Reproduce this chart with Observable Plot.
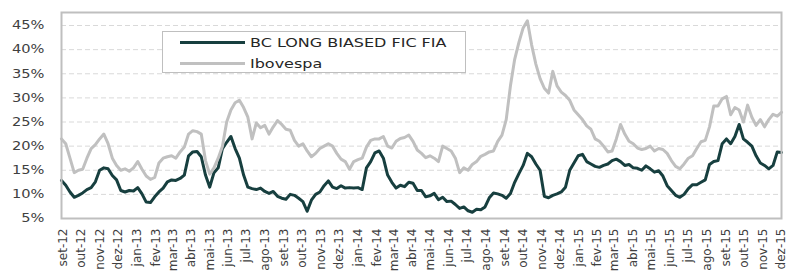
<!DOCTYPE html>
<html><head><meta charset="utf-8">
<script src="https://cdn.jsdelivr.net/npm/d3@7"></script>
<script src="https://cdn.jsdelivr.net/npm/@observablehq/plot@0.6"></script>
<style>
body{margin:0;background:#fff;}
#wrap{position:relative;width:786px;height:273px;overflow:hidden;}
#legend{position:absolute;left:162px;top:31px;}
</style>
</head><body>
<div id="wrap"><div id="chart"></div><div id="legend"></div></div>
<script>
const seriesNames = ["BC LONG BIASED FIC FIA", "Ibovespa"];
const monthNames = ["jan","fev","mar","abr","mai","jun","jul","ago","set","out","nov","dez"];
const yTicks = [5,10,15,20,25,30,35,40,45];
// weekly observations starting 2012-08-29
const fundVol = [
12.9,11.9,10.5,9.4,9.8,10.3,11.0,11.4,12.6,15.0,15.5,15.3,13.9,13.0,10.8,10.5,10.8,10.7,11.4,10.1,8.4,8.3,
9.5,10.5,11.3,12.6,13.0,12.9,13.3,14.0,18.0,18.8,18.9,17.8,14.0,11.5,14.5,15.5,19.5,20.8,22.0,19.5,17.5,
14.0,11.5,11.2,11.0,11.3,10.6,10.2,10.6,9.6,9.2,9.0,10.0,9.8,9.2,8.5,6.5,8.8,10.0,10.5,11.8,12.8,
11.5,11.2,11.8,11.3,11.4,11.3,11.4,11.0,15.5,16.8,18.6,19.0,17.5,14.0,12.5,11.3,11.9,11.6,12.5,12.3,10.8,
10.8,9.5,9.7,10.2,8.9,9.4,8.5,8.6,7.9,7.1,7.4,6.6,6.3,6.9,6.8,7.4,9.3,10.3,10.1,9.8,9.2,10.2,
12.5,14.3,16.0,18.5,17.8,16.3,15.0,9.6,9.3,9.8,10.1,10.5,11.5,15.0,16.5,18.0,18.3,16.8,16.3,15.8,15.6,
16.0,16.3,17.0,17.3,16.8,16.0,16.2,15.5,15.4,15.0,15.9,15.3,14.6,14.9,13.8,11.8,10.8,9.8,9.4,10.0,11.2,
12.0,12.0,12.5,13.0,16.2,16.8,17.0,20.5,21.5,20.5,22.0,24.5,21.5,20.8,20.0,18.0,16.5,16.0,15.3,16.0,18.8,18.7
];
const iboVol = [
21.5,20.5,17.5,14.5,15.0,15.2,17.5,19.5,20.3,21.5,22.5,20.5,17.5,16.0,15.0,15.3,14.8,15.5,16.8,15.2,13.8,13.1,
13.5,16.5,17.5,17.8,18.0,17.5,18.8,19.8,22.5,23.2,23.0,22.5,17.0,14.2,15.5,17.5,20.0,25.0,27.5,29.0,29.5,
28.0,26.0,21.5,24.8,23.8,24.3,22.5,24.0,25.3,24.5,23.5,23.3,21.2,20.0,20.5,19.0,17.8,18.5,19.5,20.0,20.5,
20.0,18.5,17.3,16.8,15.2,16.8,17.2,17.5,19.8,21.2,21.5,21.5,22.0,20.0,19.6,21.0,21.6,21.8,22.3,21.0,19.2,
18.5,17.6,18.0,17.5,16.8,20.0,19.5,19.0,17.5,14.5,15.5,15.0,16.2,16.8,17.9,18.3,18.8,19.0,21.0,22.3,25.5,32.5,
38.0,41.5,44.5,46.0,41.0,37.0,34.0,32.0,31.0,35.5,32.5,31.2,30.5,29.5,27.5,26.5,25.5,24.2,23.5,21.5,21.0,
20.0,18.8,19.0,21.5,24.5,22.5,21.0,20.5,19.6,19.3,19.5,20.0,19.0,19.5,19.3,18.5,17.0,15.8,15.3,16.3,17.5,
18.0,19.5,20.9,21.2,24.0,28.3,28.3,29.8,30.3,26.5,28.0,27.5,25.0,28.5,26.0,24.3,25.5,24.0,25.5,26.6,26.2,27.0
];
const colors = ["#173f3f", "#c0c0c0"];

const startDate = new Date(Date.UTC(2012, 7, 29));
const dates = fundVol.map((_, i) => d3.utcDay.offset(startDate, 7 * i));
const endDate = dates[dates.length - 1];
const rows = [];
[fundVol, iboVol].forEach((vals, s) => vals.forEach((v, i) => rows.push({date: dates[i], value: v, series: seriesNames[s]})));
const xTicks = d3.utcMonth.range(new Date(Date.UTC(2012, 8, 1)), d3.utcDay.offset(endDate, 1));
const fmt = d => `${monthNames[d.getUTCMonth()]}-${String(d.getUTCFullYear() % 100).padStart(2, "0")}`;

const chart = Plot.plot({
  width: 786, height: 273,
  marginLeft: 61, marginRight: 5, marginTop: 12, marginBottom: 55,
  style: {fontFamily: "DejaVu Sans", fontSize: "12px", color: "#404040", background: "#fff"},
  x: {type: "utc", domain: [startDate, endDate], ticks: xTicks, tickFormat: fmt, tickRotate: -90, tickSize: 0, tickPadding: 10, label: null},
  y: {domain: [5, 47.7], ticks: yTicks, tickFormat: d => d + "%", tickSize: 0, tickPadding: 17, label: null},
  marks: [
    Plot.ruleY(yTicks.slice(1), {stroke: "#d9d9d9", strokeDasharray: "5,3"}),
    Plot.line(rows.filter(d => d.series === seriesNames[0]), {x: "date", y: "value", stroke: colors[0], strokeWidth: 3}),
    Plot.line(rows.filter(d => d.series === seriesNames[1]), {x: "date", y: "value", stroke: colors[1], strokeWidth: 3}),
    Plot.frame({stroke: "#bfbfbf", strokeWidth: 2})
  ]
});
document.getElementById("chart").appendChild(chart);
chart.querySelectorAll('[aria-label="y-axis tick label"] text').forEach(t => {
  const b = t.getBBox();
  const r = b.x + b.width, cy = b.y + b.height / 2;
  const tr = t.getAttribute("transform") || "";
  t.setAttribute("transform", `${tr} translate(${r},${cy}) scale(1.22,1) translate(${-r},${-cy})`);
});

// legend
const ns = "http://www.w3.org/2000/svg";
const lg = document.createElementNS(ns, "svg");
lg.setAttribute("width", 305); lg.setAttribute("height", 43);
const box = document.createElementNS(ns, "rect");
box.setAttribute("x", 0.5); box.setAttribute("y", 0.5); box.setAttribute("width", 303); box.setAttribute("height", 41);
box.setAttribute("fill", "#fff"); box.setAttribute("stroke", "#bfbfbf");
lg.appendChild(box);
seriesNames.forEach((name, i) => {
  const yy = 11.5 + i * 21;
  const ln = document.createElementNS(ns, "line");
  ln.setAttribute("x1", 18); ln.setAttribute("x2", 83); ln.setAttribute("y1", yy); ln.setAttribute("y2", yy);
  ln.setAttribute("stroke", colors[i]); ln.setAttribute("stroke-width", 3);
  lg.appendChild(ln);
  const tx = document.createElementNS(ns, "text");
  tx.setAttribute("x", 0); tx.setAttribute("y", 0);
  tx.setAttribute("transform", `translate(88,${yy + 4.6}) scale(1.23,1)`);
  tx.setAttribute("font-family", "DejaVu Sans"); tx.setAttribute("font-size", 13); tx.setAttribute("fill", "#262626");
  tx.textContent = name;
  lg.appendChild(tx);
});
document.getElementById("legend").appendChild(lg);
</script>
</body></html>
